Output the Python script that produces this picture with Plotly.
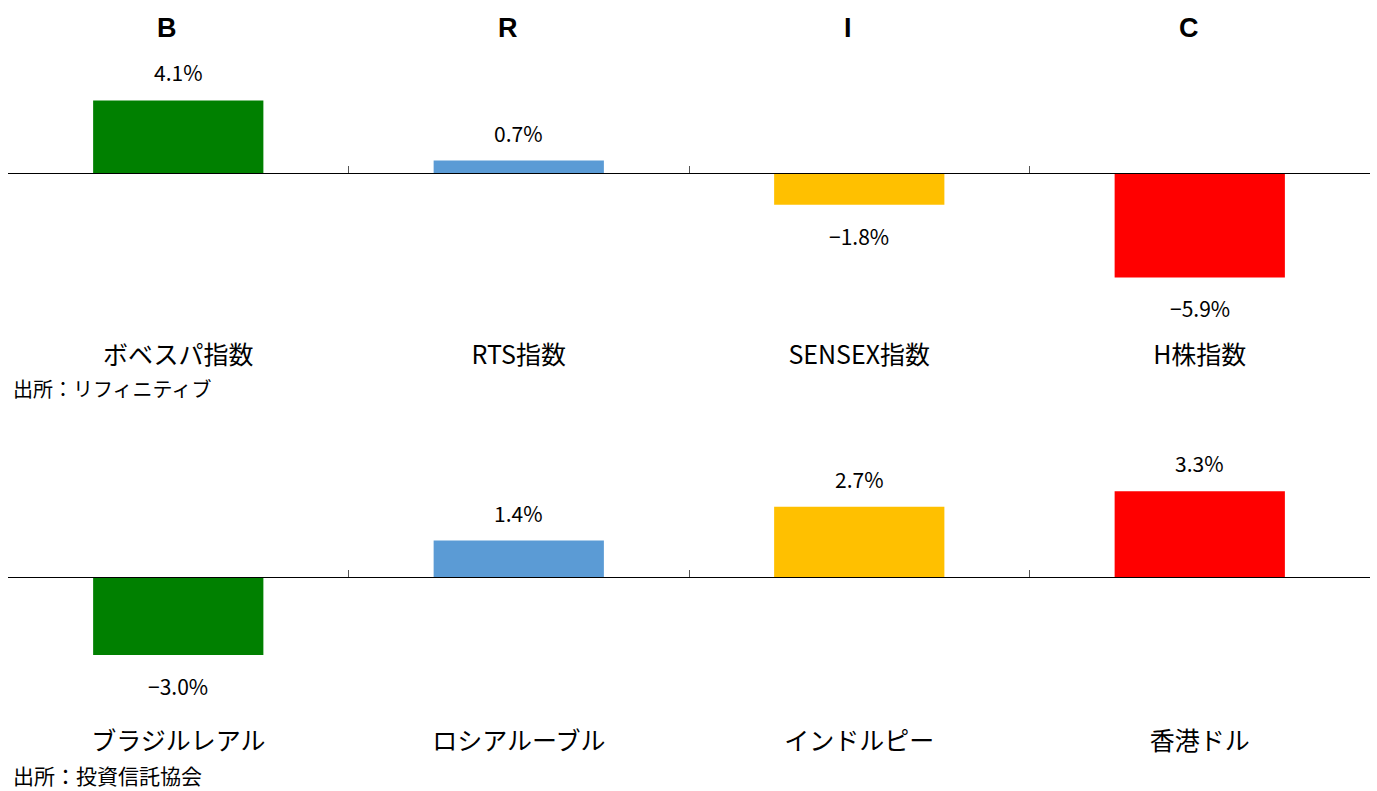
import plotly.graph_objects as go

# ---- data ----
headers = ["B", "R", "I", "C"]
index_names = ["ボベスパ指数", "RTS指数", "SENSEX指数", "H株指数"]
index_returns = [4.1, 0.7, -1.8, -5.9]
currency_names = ["ブラジルレアル", "ロシアルーブル", "インドルピー", "香港ドル"]
currency_returns = [-3.0, 1.4, 2.7, 3.3]
colors = ["#008000", "#5B9BD5", "#FFC000", "#FF0000"]
source_top = "出所：リフィニティブ"
source_bottom = "出所：投資信託協会"

# ---- layout geometry (pixels) ----
W, H = 1377, 791
JP = "Noto Sans CJK JP"


def py(px):
    return 1 - px / H


# panel: domain top/bottom px, zero line px, px per unit
T_TOP, T_BOT, T_ZERO, T_SCALE = 45, 340, 173, 17.7
B_TOP, B_BOT, B_ZERO, B_SCALE = 430, 728, 577, 26.0

fig = go.Figure()
fig.add_trace(go.Bar(x=index_names, y=index_returns, marker_color=colors,
                     marker_line_width=0, xaxis="x", yaxis="y", hoverinfo="skip"))
fig.add_trace(go.Bar(x=currency_names, y=currency_returns, marker_color=colors,
                     marker_line_width=0, xaxis="x2", yaxis="y2", hoverinfo="skip"))


def fmt(v):
    s = f"{abs(v):.1f}%"
    return ("\u2212" + s) if v < 0 else s


annotations = []
for names, vals, xr, yr in [(index_names, index_returns, "x", "y"),
                            (currency_names, currency_returns, "x2", "y2")]:
    for n, v in zip(names, vals):
        annotations.append(dict(
            x=n, y=v, xref=xr, yref=yr, text=fmt(v), showarrow=False,
            xanchor="center", yanchor="middle",
            yshift=28 if v >= 0 else -31,
            font=dict(family=JP, size=21, color="#000000")))

for n, h in zip(index_names, headers):
    annotations.append(dict(
        x=n, y=py(28), xref="x", yref="paper", text=h, showarrow=False,
        xanchor="center", yanchor="middle", xshift=-11,
        font=dict(family="Liberation Sans", size=27, color="#000000", weight="bold")))

annotations.append(dict(x=11 / W, y=py(388), xref="paper", yref="paper", text=source_top,
                        showarrow=False, xanchor="left", yanchor="middle",
                        font=dict(family=JP, size=20, color="#000000")))
annotations.append(dict(x=11 / W, y=py(775), xref="paper", yref="paper", text=source_bottom,
                        showarrow=False, xanchor="left", yanchor="middle",
                        font=dict(family=JP, size=21, color="#000000")))

xdom = [8 / W, 1370 / W]
xcommon = dict(domain=xdom, type="category", showline=True, linecolor="#000000",
               linewidth=1.3, ticks="inside", tickson="boundaries", ticklen=7,
               tickcolor="#555555", tickwidth=1, showgrid=False, zeroline=False,
               anchor="free", automargin=False,
               tickfont=dict(family=JP, size=25, color="#000000"))

fig.update_layout(
    width=W, height=H,
    margin=dict(l=0, r=0, t=0, b=0),
    paper_bgcolor="white", plot_bgcolor="white",
    showlegend=False, bargap=0.5,
    xaxis=dict(**xcommon, position=py(T_ZERO), ticklabelstandoff=160),
    xaxis2=dict(**xcommon, position=py(B_ZERO), ticklabelstandoff=142),
    yaxis=dict(domain=[py(T_BOT), py(T_TOP)],
               range=[-(T_BOT - T_ZERO) / T_SCALE, (T_ZERO - T_TOP) / T_SCALE],
               visible=False, showgrid=False, zeroline=False),
    yaxis2=dict(domain=[py(B_BOT), py(B_TOP)],
                range=[-(B_BOT - B_ZERO) / B_SCALE, (B_ZERO - B_TOP) / B_SCALE],
                visible=False, showgrid=False, zeroline=False),
    annotations=annotations,
)

fig.write_html("out.html",
               config={"displayModeBar": False},
               post_script="document.body.style.margin='0px';"
                           "document.body.style.overflow='hidden';")
